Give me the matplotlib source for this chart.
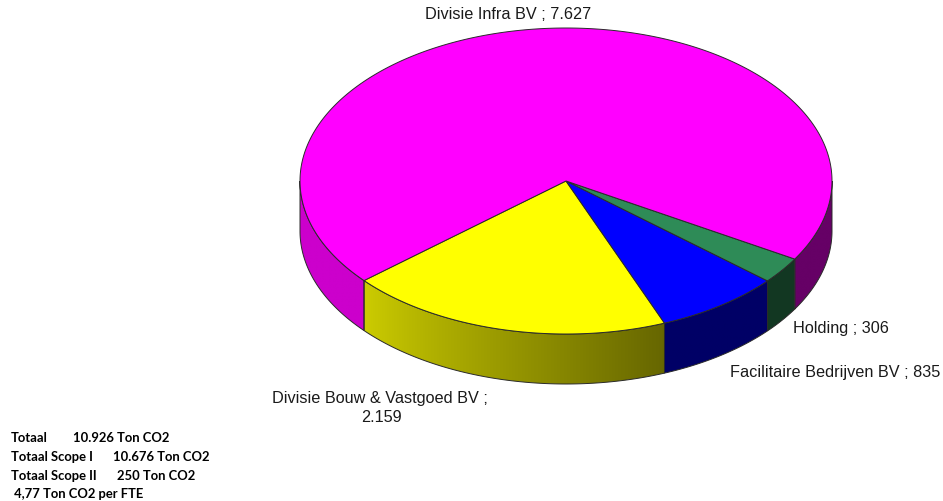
import numpy as np
import matplotlib
matplotlib.use("Agg")
import matplotlib.pyplot as plt
from matplotlib.colors import to_rgb
from matplotlib.patches import Polygon

# slice data
labels = ["Divisie Infra BV", "Divisie Bouw & Vastgoed BV",
          "Facilitaire Bedrijven BV", "Holding"]
values = [7627, 2159, 835, 306]
value_text = ["7.627", "2.159", "835", "306"]
colors = ["#FF00FF", "#FFFF00", "#0000FF", "#2E8B57"]
draw_order = [1, 2, 3, 0]   # counter-clockwise from start angle

# summary block
summary_left = ["Totaal", "Totaal Scope I", "Totaal Scope II", " 4,77 Ton CO2 per FTE"]
summary_right = ["10.926 Ton CO2", "10.676 Ton CO2", "250 Ton CO2", ""]

# geometry (pixels)
cx, cy, rx, ry, depth = 566, 181, 266, 153, 50
start_angle = 220.6
edge = "#2a2a2a"


def pt(theta, dz=0.0):
    t = np.radians(theta)
    return cx + rx * np.cos(t), cy - ry * np.sin(t) + dz


fig = plt.figure(figsize=(9.43, 5.01), dpi=100)
ax = fig.add_axes([0, 0, 1, 1])

total = float(sum(values))
spans = []
a = start_angle
for i in draw_order:
    sweep = 360.0 * values[i] / total
    spans.append((i, a, a + sweep))
    a += sweep

# side shading: light on the left, darkening across the yellow slice
y_start, y_end = spans[0][1], spans[0][2]


def shade(theta):
    th = theta % 360
    return np.interp(th, [180, y_start, y_end, 360], [0.8, 0.8, 0.4, 0.4])


# side faces (front half only), filled with a horizontal gradient
for i, a0, a1 in spans:
    base = np.array(to_rgb(colors[i]))
    for k in range(-1, 3):
        lo = max(a0, 180 + 360 * k)
        hi = min(a1, 360 + 360 * k)
        if hi <= lo:
            continue
        th = np.linspace(lo, hi, max(int((hi - lo) * 3), 2))
        top = [pt(t) for t in th]
        bot = [pt(t, depth) for t in th[::-1]]
        verts = np.array(top + bot)
        x0, x1 = verts[:, 0].min(), verts[:, 0].max()
        y0, y1 = verts[:, 1].min(), verts[:, 1].max()
        xs = np.linspace(x0, x1, 400)
        ang = 360 - np.degrees(np.arccos(np.clip((xs - cx) / rx, -1, 1)))
        img = (base[None, :] * shade(ang)[:, None])[None, :, :]
        clip = Polygon(verts, closed=True, facecolor="none", edgecolor=edge,
                       lw=0.7, zorder=2)
        ax.add_patch(clip)
        im = ax.imshow(img, extent=[x0, x1, y1, y0], aspect="auto",
                       interpolation="bilinear", zorder=1)
        im.set_clip_path(clip)

# top faces
for i, a0, a1 in spans:
    th = np.linspace(a0, a1, max(int((a1 - a0) * 2), 3))
    poly = [(cx, cy)] + [pt(t) for t in th]
    ax.add_patch(Polygon(poly, closed=True, facecolor=colors[i],
                         edgecolor=edge, lw=0.7, zorder=3))

ax.set_xlim(0, 943)
ax.set_ylim(501, 0)
ax.axis("off")

# slice labels
lab_font = dict(family=["Liberation Sans", "DejaVu Sans"], fontsize=11.7,
                color="#1a1a1a")
ax.text(508, 14, f"{labels[0]} ; {value_text[0]}", ha="center", va="center", **lab_font)
ax.text(272, 399, f"{labels[1]} ;", ha="left", va="center", **lab_font)
ax.text(381, 418, value_text[1], ha="center", va="center", **lab_font)
ax.text(793, 329, f"{labels[3]} ; {value_text[3]}", ha="left", va="center", **lab_font)
ax.text(730, 372, f"{labels[2]} ; {value_text[2]}", ha="left", va="center", **lab_font)

# summary block
sum_font = dict(family=["Lato", "DejaVu Sans"], fontsize=9.4, fontweight="bold",
                color="black")
rows_y = [438, 457, 476, 494]
right_x = [73, 113, 117, 0]
for yy, left, right, xr in zip(rows_y, summary_left, summary_right, right_x):
    ax.text(11, yy, left, ha="left", va="center", **sum_font)
    if right:
        ax.text(xr, yy, right, ha="left", va="center", **sum_font)

fig.savefig("out.png", dpi=100)
